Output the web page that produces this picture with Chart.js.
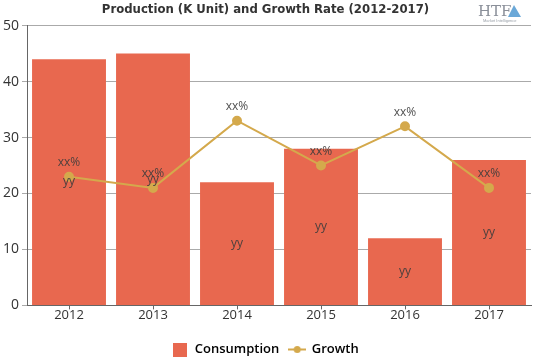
<!DOCTYPE html>
<html>
<head>
<meta charset="utf-8">
<script src="https://cdn.jsdelivr.net/npm/chart.js@4.4.0/dist/chart.umd.min.js"></script>
<style>
  html, body { margin: 0; padding: 0; background: #fff; }
  #wrap { width: 539px; height: 359px; position: relative; }
</style>
</head>
<body>
<div id="wrap"><canvas id="chart" width="539" height="359"></canvas></div>
<script>
// data
const years = ['2012', '2013', '2014', '2015', '2016', '2017'];
const consumption = [44, 45, 22, 28, 12, 26];
const growth = [23, 21, 33, 25, 32, 21];
const yTicks = [0, 10, 20, 30, 40, 50];
const barLabels = ['yy', 'yy', 'yy', 'yy', 'yy', 'yy'];
const pointLabels = ['xx%', 'xx%', 'xx%', 'xx%', 'xx%', 'xx%'];

const BAR_COLOR = '#e8684f';
const LINE_COLOR = '#d4a94c';

// small canvases used as legend markers
function makeBoxMarker() {
    const c = document.createElement('canvas');
    c.width = 14; c.height = 14;
    const g = c.getContext('2d');
    g.fillStyle = BAR_COLOR;
    g.fillRect(0, 0, 14, 14);
    return c;
}
function makeLineMarker() {
    const c = document.createElement('canvas');
    c.width = 18; c.height = 9;
    const g = c.getContext('2d');
    g.strokeStyle = LINE_COLOR;
    g.lineWidth = 2;
    g.beginPath(); g.moveTo(0, 4.5); g.lineTo(18, 4.5); g.stroke();
    g.fillStyle = LINE_COLOR;
    g.beginPath(); g.arc(9, 4.5, 3.5, 0, Math.PI * 2); g.fill();
    return c;
}

// value labels: "yy" in the middle of each bar, "xx%" above each point
const valueLabels = {
    id: 'valueLabels',
    afterDatasetsDraw(chart) {
        const ctx = chart.ctx;
        ctx.save();
        ctx.font = '12px "Open Sans", sans-serif';
        ctx.fillStyle = 'rgba(60,60,60,0.9)';
        ctx.textAlign = 'center';
        ctx.textBaseline = 'middle';
        chart.getDatasetMeta(0).data.forEach((bar, i) => {
            const mid = (bar.y + bar.base) / 2;
            ctx.fillText(barLabels[i], bar.x, mid);
        });
        chart.getDatasetMeta(1).data.forEach((pt, i) => {
            ctx.fillText(pointLabels[i], pt.x, pt.y - 14);
        });
        ctx.restore();
    }
};

// logo text top right
const logo = {
    id: 'logo',
    afterDraw(chart) {
        const ctx = chart.ctx;
        ctx.save();
        ctx.fillStyle = '#8a8f99';
        ctx.font = '15px "DejaVu Serif", serif';
        ctx.textAlign = 'left';
        ctx.textBaseline = 'alphabetic';
        ctx.fillText('HTF', 478, 16);
        ctx.fillStyle = '#6aa8d8';
        ctx.beginPath();
        ctx.moveTo(508, 17); ctx.lineTo(514, 5); ctx.lineTo(521, 17); ctx.closePath();
        ctx.fill();
        ctx.fillStyle = '#9aa0a8';
        ctx.font = '4px sans-serif';
        ctx.fillText('Market Intelligence', 483, 22);
        ctx.restore();
    }
};

new Chart(document.getElementById('chart'), {
    data: {
        labels: years,
        datasets: [
            {
                type: 'bar',
                label: 'Consumption',
                data: consumption,
                backgroundColor: BAR_COLOR,
                barPercentage: 0.88,
                categoryPercentage: 1.0,
                order: 2
            },
            {
                type: 'line',
                label: 'Growth',
                data: growth,
                borderColor: LINE_COLOR,
                backgroundColor: LINE_COLOR,
                borderWidth: 2,
                pointRadius: 4,
                pointHoverRadius: 4,
                tension: 0,
                order: 1
            }
        ]
    },
    options: {
        responsive: false,
        animation: false,
        layout: { padding: { left: 0, right: 8, top: 0, bottom: -7 } },
        plugins: {
            title: {
                display: true,
                text: 'Production (K Unit) and Growth Rate (2012-2017)',
                font: { family: '"DejaVu Sans Condensed", "DejaVu Sans", sans-serif', size: 13, weight: 'bold' },
                color: '#333',
                padding: { top: 2, bottom: 8 }
            },
            legend: {
                position: 'bottom',
                labels: {
                    usePointStyle: true,
                    pointStyleWidth: 16,
                    boxHeight: 13,
                    padding: 10,
                    color: '#333',
                    font: { family: '"Open Sans", sans-serif', size: 13, weight: '600' },
                    generateLabels(chart) {
                        return chart.data.datasets.map((ds, i) => ({
                            text: ds.label,
                            pointStyle: i === 0 ? makeBoxMarker() : makeLineMarker(),
                            fillStyle: ds.backgroundColor,
                            strokeStyle: ds.backgroundColor,
                            lineWidth: 0,
                            hidden: false,
                            datasetIndex: i
                        }));
                    }
                }
            },
            tooltip: { enabled: false }
        },
        scales: {
            x: {
                afterFit(scale) {
                    // leave a gap between the year labels and the legend
                    scale.height += 12;
                },
                grid: {
                    display: true,
                    drawOnChartArea: false,
                    offset: false,
                    tickLength: 4,
                    color: '#666'
                },
                border: { color: '#666' },
                ticks: {
                    color: '#333',
                    padding: -2,
                    font: { family: '"Open Sans", sans-serif', size: 13 }
                }
            },
            y: {
                min: yTicks[0],
                max: yTicks[yTicks.length - 1],
                afterBuildTicks(axis) {
                    axis.ticks = yTicks.map(v => ({ value: v }));
                },
                grid: {
                    color: '#aaa',
                    tickLength: 5
                },
                border: { color: '#666' },
                ticks: {
                    color: '#333',
                    padding: 3,
                    font: { family: '"Open Sans", sans-serif', size: 14 }
                }
            }
        }
    },
    plugins: [valueLabels, logo]
});
</script>
</body>
</html>
